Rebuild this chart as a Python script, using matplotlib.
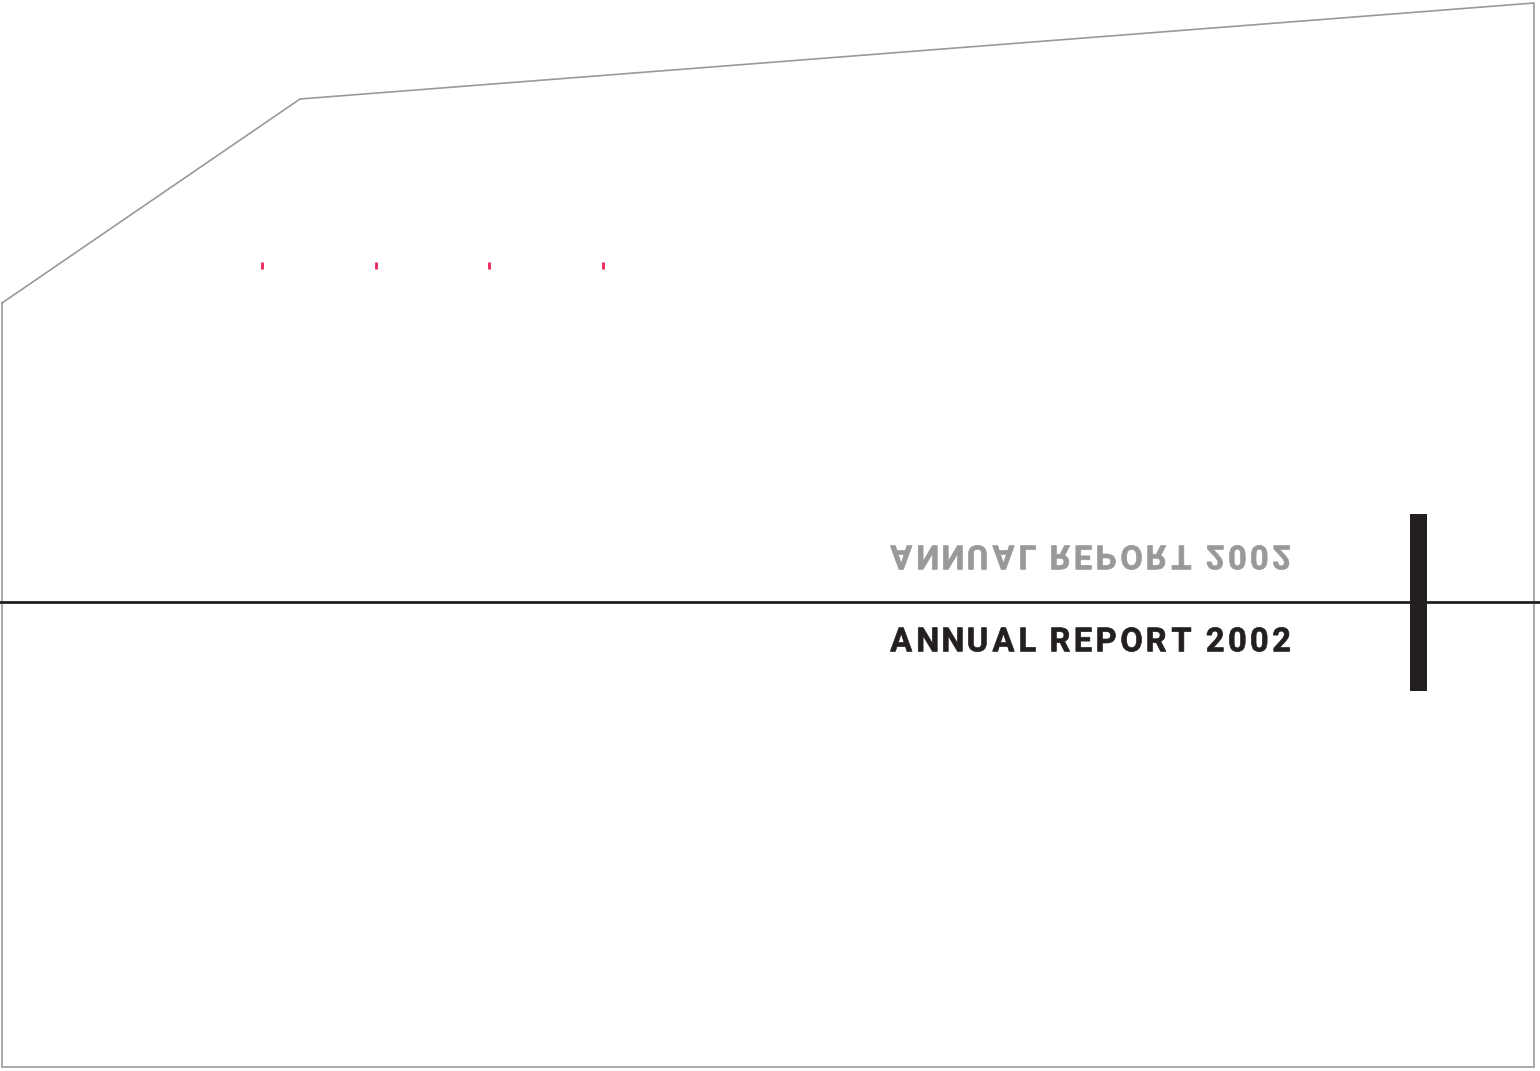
import matplotlib
matplotlib.use("Agg")
import matplotlib.pyplot as plt
from matplotlib.font_manager import FontProperties
from matplotlib.patches import PathPatch, Rectangle
from matplotlib.path import Path
from matplotlib.textpath import TextPath
from matplotlib.transforms import Affine2D
import numpy as np

# page geometry (pixels, y downwards)
W, H = 1540, 1071
outline_x = [2, 300, 1534, 1534, 2, 2]
outline_y = [303, 99, 3, 1067, 1067, 303]
rule_y = 602
tick_x = [262, 376, 489, 603]
tick_y = (262, 269)
bar_box = (1410, 514, 17, 177)  # x, y, w, h

title = "ANNUAL REPORT 2002"
title_box = (890, 1290)       # left, right
title_base = 652              # baseline of upright title
mirror_top = 545              # top (baseline after flip) of mirrored title
cap_h = 25

DARK = "#231f20"
GREY = "#999999"
RED = "#e8245a"


def tracked_path(text, tracking=0.19):
    """Build one path for text with extra letter spacing (units of font size)."""
    prop = FontProperties(family="Roboto", weight="bold")
    size = 10.0
    verts, codes = [], []
    x = 0.0
    for ch in text:
        if ch == " ":
            x += size * 0.3
            continue
        tp = TextPath((0, 0), ch, size=size, prop=prop)
        ext = tp.get_extents()
        v = tp.vertices.copy()
        v[:, 0] += x - ext.x0
        verts.append(v)
        codes.append(tp.codes)
        x += ext.width + size * tracking
    return Path(np.vstack(verts), np.concatenate(codes))


def place(ax, path, left, right, y_base, height, flip, color):
    ext = path.get_extents()
    sx = (right - left) / ext.width
    sy = height / ext.height
    # data y axis is inverted, so a positive y scale already draws upside-down
    tr = Affine2D().translate(-ext.x0, -ext.y0).scale(sx, sy if flip else -sy).translate(left, y_base)
    ax.add_patch(PathPatch(tr.transform_path(path), facecolor=color,
                           edgecolor=color, linewidth=0.5))


fig = plt.figure(figsize=(W / 100, H / 100), dpi=100)
ax = fig.add_axes([0, 0, 1, 1])
ax.set_xlim(0, W)
ax.set_ylim(H, 0)
ax.axis("off")

ax.plot(outline_x, outline_y, color=GREY, linewidth=1.2, solid_joinstyle="miter")
ax.plot([0, W], [rule_y, rule_y], color=DARK, linewidth=2.0)

for tx in tick_x:
    ax.plot([tx, tx], tick_y, color=RED, linewidth=2.0, solid_capstyle="butt")

bx, by, bw, bh = bar_box
ax.add_patch(Rectangle((bx, by), bw, bh, facecolor=DARK, edgecolor="none"))

tp = tracked_path(title)
place(ax, tp, title_box[0] + 0.3, title_box[1] - 0.3, title_base - 0.3, cap_h - 0.6, False, DARK)
place(ax, tp, title_box[0] + 0.3, title_box[1] - 0.3, mirror_top + 0.3, cap_h - 0.6, True, GREY)

fig.savefig("out.png", dpi=100)
